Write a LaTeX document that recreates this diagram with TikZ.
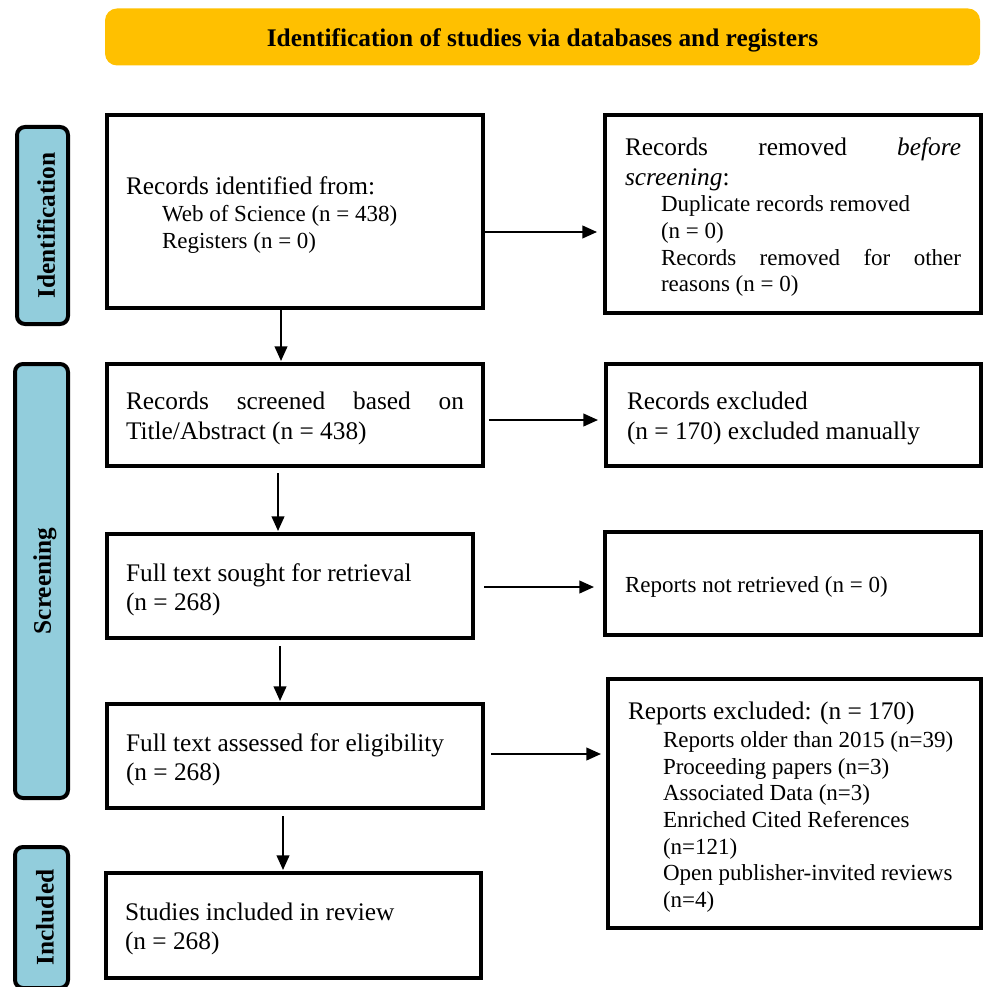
\documentclass[tikz,border=0pt]{standalone}
\usepackage{fontspec}
\setmainfont{Liberation Serif}
\usetikzlibrary{arrows.meta}
\newlength\pxl
\setlength\pxl{0.75pt}
\definecolor{hdr}{HTML}{FFC000}
\definecolor{sidecol}{HTML}{92CDDC}
\newcommand\mainsz{\fontsize{19}{22}\selectfont}
\newcommand\subsz{\fontsize{17.25}{20}\selectfont}
\newcommand\lowr[1]{\raisebox{-3.5\pxl}[\height][\depth]{#1}}
\begin{document}
\begin{tikzpicture}[x=0.75pt,y=-0.75pt,
  box/.style={draw, line width=3pt, rectangle, inner sep=0pt, font=\mainsz},
  sidebox/.style={draw, line width=3pt, fill=sidecol, rounded corners=8\pxl, inner sep=0pt, rotate=90, font=\bfseries\fontsize{19}{22}\selectfont},
  arr/.style={line width=1.5pt, -{Triangle[length=11pt,width=9.5pt]}}]
\useasboundingbox (0,0) rectangle (984,987);
\clip (0,0) rectangle (984,987);

% header
\node[fill=hdr, rounded corners=12\pxl, minimum width=875\pxl, minimum height=57\pxl, inner sep=0pt,
      font=\bfseries\fontsize{19}{22}\selectfont] (hd) at (542.5,37)
  {\lowr{Identification of studies via databases and registers}};

% side labels
\node[sidebox, minimum width=197\pxl, minimum height=51\pxl] (sid) at (42.5,225.5) {\lowr{Identification}};
\node[sidebox, minimum width=434\pxl, minimum height=53\pxl] (sscr) at (41.5,581) {\lowr{Screening}};
\node[sidebox, minimum width=141\pxl, minimum height=53\pxl] (sinc) at (41.5,917.5) {\lowr{Included}};

% left column
\node[box, minimum width=376\pxl, minimum height=193\pxl] (b1) at (295,211.5)
  {\lowr{\parbox{338\pxl}{Records identified from:\par
   {\subsz\leftskip=36\pxl Web of Science (n = 438)\\Registers (n = 0)\par}}}};
\node[box, minimum width=376\pxl, minimum height=102\pxl] (b2) at (295,415)
  {\lowr{\parbox{338\pxl}{Records screened based on\linebreak Title/Abstract (n = 438)}}};
\node[box, minimum width=366\pxl, minimum height=104\pxl] (b3) at (290,586)
  {\lowr{\parbox{328\pxl}{Full text sought for retrieval\\(n = 268)}}};
\node[box, minimum width=376\pxl, minimum height=104\pxl] (b4) at (295,756)
  {\lowr{\parbox{338\pxl}{Full text assessed for eligibility\\(n = 268)}}};
\node[box, minimum width=375\pxl, minimum height=105\pxl] (b5) at (293.5,925.5)
  {\lowr{\parbox{337\pxl}{Studies included in review\\(n = 268)}}};

% right column
\node[box, minimum width=376\pxl, minimum height=198\pxl] (r1) at (793,214)
  {\lowr{\parbox{336\pxl}{Records removed \textit{before}\linebreak\textit{screening}:\par
   {\subsz\leftskip=36\pxl Duplicate records removed\\(n = 0)\\Records removed for other\linebreak reasons (n = 0)\par}}}};
\node[box, minimum width=375\pxl, minimum height=102\pxl] (r2) at (793.5,415)
  {\lowr{\parbox{333\pxl}{Records excluded\\(n = 170) excluded manually}}};
\node[box, minimum width=376\pxl, minimum height=103\pxl, font=\subsz] (r3) at (793,583.5)
  {\lowr{\parbox{336\pxl}{Reports not retrieved (n = 0)}}};
\node[box, minimum width=373\pxl, minimum height=249\pxl] (r4) at (794.5,803.5)
  {\lowr{\parbox{333\pxl}{Reports excluded: (n = 170)\par\vspace{1pt}
   {\subsz\leftskip=35\pxl \mbox{Reports older than 2015 (n=39)}\\\mbox{Proceeding papers (n=3)}\\\mbox{Associated Data (n=3)}\\\mbox{Enriched Cited References}\\(n=121)\\\mbox{Open publisher-invited reviews}\\(n=4)\par}}}};

% connector guides
\coordinate (vx1) at (281,0);
\coordinate (vx2) at (278,0);
\coordinate (vx3) at (280,0);
\coordinate (vx4) at (283,0);
\coordinate (hy1) at (0,232);
\coordinate (hy2) at (0,420);
\coordinate (hy3) at (0,587);
\coordinate (hy4) at (0,754);

% vertical arrows
\draw[arr, shorten >=1\pxl] (b1.south -| vx1) -- (b2.north -| vx1);
\draw[arr, shorten <=5\pxl, shorten >=1\pxl] (b2.south -| vx2) -- (b3.north -| vx2);
\draw[arr, shorten <=6\pxl, shorten >=1\pxl] (b3.south -| vx3) -- (b4.north -| vx3);
\draw[arr, shorten <=6\pxl, shorten >=1\pxl] (b4.south -| vx4) -- (b5.north -| vx4);

% horizontal arrows
\draw[arr, shorten >=6\pxl] (b1.east |- hy1) -- (r1.west |- hy1);
\draw[arr, shorten <=4\pxl, shorten >=6\pxl] (b2.east |- hy2) -- (r2.west |- hy2);
\draw[arr, shorten <=9\pxl, shorten >=9\pxl] (b3.east |- hy3) -- (r3.west |- hy3);
\draw[arr, shorten <=6\pxl, shorten >=5\pxl] (b4.east |- hy4) -- (r4.west |- hy4);
\end{tikzpicture}
\end{document}
